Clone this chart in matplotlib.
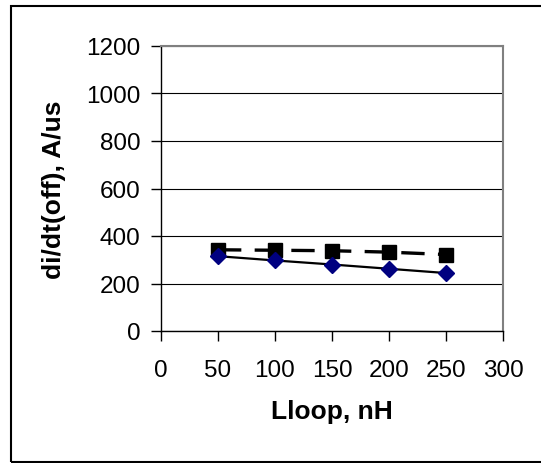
import matplotlib
matplotlib.use("Agg")
import matplotlib.pyplot as plt
from matplotlib.patches import Rectangle

plt.rcParams['font.family'] = ['Liberation Sans', 'DejaVu Sans']

lloop = [50, 100, 150, 200, 250]
didt_diamond = [315, 297, 280, 262, 244]
didt_square = [342, 340, 338, 332, 322]

x_ticks = [0, 50, 100, 150, 200, 250, 300]
y_ticks = [0, 200, 400, 600, 800, 1000, 1200]

fig = plt.figure(figsize=(5.41, 4.64), dpi=100)
ax = fig.add_axes([161 / 541, (464 - 332) / 464, (503 - 161) / 541, (332 - 47) / 464])

# outer chart frame
fig.patches.append(Rectangle((11 / 541, 1.5 / 464), 1.2, (462 - 6) / 464,
                             transform=fig.transFigure, fill=False,
                             edgecolor='black', linewidth=1.5))

ax.plot(lloop, didt_square, color='black', linewidth=2.4, dashes=(7, 4),
        marker='s', markersize=9.5, markerfacecolor='black',
        markeredgecolor='black', zorder=3)
ax.plot(lloop, didt_diamond, color='black', linewidth=1.6,
        marker='D', markersize=8, markerfacecolor='#000080',
        markeredgecolor='#000080', zorder=3)

ax.set_xlim(0, 300)
ax.set_ylim(0, 1200)
ax.set_xticks(x_ticks)
ax.set_yticks(y_ticks)
ax.set_xticklabels([str(v) for v in x_ticks])
ax.set_yticklabels([str(v) for v in y_ticks])

ax.yaxis.grid(True, color='black', linewidth=0.8)
ax.set_axisbelow(True)

for side in ('top', 'right'):
    ax.spines[side].set_color('#808080')
    ax.spines[side].set_linewidth(1.5)
for side in ('left', 'bottom'):
    ax.spines[side].set_color('black')
    ax.spines[side].set_linewidth(1.0)

ax.tick_params(axis='both', direction='out', length=7, width=1,
               labelsize=17.5, colors='black')
ax.tick_params(axis='x', pad=13)
ax.tick_params(axis='y', pad=8)

ax.set_xlabel('Lloop, nH', fontsize=19, fontweight='bold', labelpad=13)
ax.set_ylabel('di/dt(off), A/us', fontsize=19, fontweight='bold', labelpad=14)

fig.savefig('out.png', dpi=100)
